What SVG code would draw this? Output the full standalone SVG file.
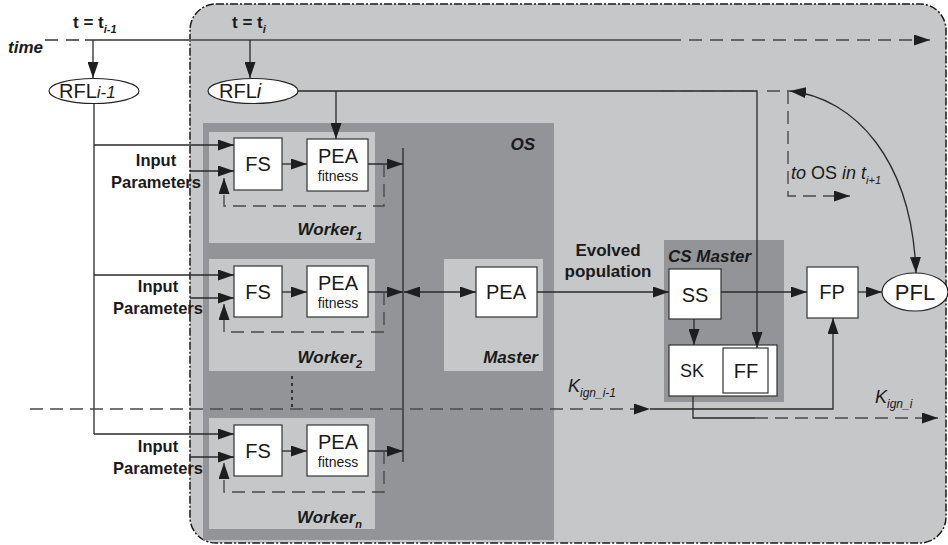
<svg xmlns="http://www.w3.org/2000/svg" width="948" height="545" viewBox="0 0 948 545">
<defs>
<marker id="ah" viewBox="0 0 16 11" refX="16" refY="5.5" markerWidth="16" markerHeight="11" markerUnits="userSpaceOnUse" orient="auto-start-reverse"><path d="M0,0 L16,5.5 L0,11 z" fill="#1e1e1e"/></marker>
<style>
.ln{fill:none;stroke:#2a2a2a;stroke-width:1.3}
.ds{fill:none;stroke:#4a4a4a;stroke-width:1.4;stroke-dasharray:13 7}
.tl{fill:none;stroke:#666;stroke-width:1.8}
.box{fill:#fff;stroke:#333;stroke-width:1.2}
.dark{fill:#939497}
.light{fill:#c6c7c9}
.t{font-family:"Liberation Sans",Arial,sans-serif;fill:#1a1a1a}
.b{font-weight:bold}
.bi{font-weight:bold;font-style:italic}
.i{font-style:italic}
.lab{font-size:20px;text-anchor:middle}
</style>
</defs>
<rect x="190" y="4" width="756" height="539" rx="26" fill="#c6c7c9" stroke="#1a1a1a" stroke-width="1.5" stroke-dasharray="8 2 2 2"/>

<g id="os"><rect class="dark" x="203" y="123" width="351" height="417"/><text class="t bi" x="535" y="150" font-size="17" text-anchor="end">OS</text></g>
<g id="worker1"><rect class="light" x="209" y="132" width="166" height="111"/><text class="t bi" x="362" y="235" font-size="17" text-anchor="end">Worker<tspan font-size="11" dy="5">1</tspan></text></g>
<g id="worker2"><rect class="light" x="209" y="259" width="166" height="112"/><text class="t bi" x="362" y="363" font-size="17" text-anchor="end">Worker<tspan font-size="11" dy="5">2</tspan></text></g>
<g id="workern"><rect class="light" x="209" y="418" width="166" height="111"/><text class="t bi" x="362" y="523" font-size="17" text-anchor="end">Worker<tspan font-size="11" dy="5">n</tspan></text></g>
<g id="master"><rect class="light" x="444" y="259" width="99" height="112"/><text class="t bi" x="538" y="363" font-size="17" text-anchor="end">Master</text></g>
<g id="csmaster"><rect class="dark" x="664" y="240" width="120" height="162"/><text class="t bi" x="668" y="262" font-size="17">CS Master</text></g>

<g id="fs1"><rect class="box" x="234" y="138" width="48" height="52"/><text class="t lab" x="258" y="171">FS</text></g>
<g id="pea1"><rect class="box" x="307" y="139" width="61" height="52"/><text class="t lab" x="338" y="163">PEA</text><text class="t" x="338" y="181" font-size="14" text-anchor="middle">fitness</text></g>
<g id="fs2"><rect class="box" x="234" y="266" width="48" height="51"/><text class="t lab" x="258" y="299">FS</text></g>
<g id="pea2"><rect class="box" x="307" y="266" width="61" height="51"/><text class="t lab" x="338" y="290">PEA</text><text class="t" x="338" y="308" font-size="14" text-anchor="middle">fitness</text></g>
<g id="fsn"><rect class="box" x="234" y="425" width="48" height="51"/><text class="t lab" x="258" y="458">FS</text></g>
<g id="pean"><rect class="box" x="307" y="425" width="61" height="51"/><text class="t lab" x="338" y="449">PEA</text><text class="t" x="338" y="467" font-size="14" text-anchor="middle">fitness</text></g>
<g id="pea-master"><rect class="box" x="476" y="267" width="61" height="50"/><text class="t lab" x="506" y="299">PEA</text></g>
<g id="ss"><rect class="box" x="669" y="269" width="52" height="50"/><text class="t lab" x="695" y="302" font-size="22">SS</text></g>
<g id="sk"><rect class="box" x="669" y="345" width="108" height="51"/><text class="t" x="692" y="377" font-size="18" text-anchor="middle">SK</text></g>
<g id="ff"><rect class="box" x="723" y="348" width="45" height="45"/><text class="t lab" x="746" y="378" font-size="21">FF</text></g>
<g id="fp"><rect class="box" x="807" y="267" width="51" height="51"/><text class="t lab" x="832" y="299">FP</text></g>
<g id="pfl"><ellipse cx="915" cy="292" rx="33" ry="19" fill="#fff" stroke="#222" stroke-width="1.2"/><text class="t" x="915" y="300" font-size="22" text-anchor="middle">PFL</text></g>
<g id="rfl-prev"><ellipse cx="94" cy="91" rx="45" ry="12.5" fill="#fff" stroke="#222" stroke-width="1.2"/><text class="t" x="59" y="98" font-size="20">RFL<tspan class="i" font-size="17">i-1</tspan></text></g>
<g id="rfl-i"><ellipse cx="253" cy="91" rx="45" ry="12.5" fill="#fff" stroke="#222" stroke-width="1.2"/><text class="t" x="219" y="98" font-size="20">RFL<tspan class="i">i</tspan></text></g>

<g id="labels">
<text class="t bi" x="8" y="53" font-size="17">time</text>
<text class="t b" x="73" y="28" font-size="17">t = t<tspan class="bi" font-size="11" dy="5">i-1</tspan></text>
<text class="t b" x="232" y="28" font-size="17">t = t<tspan class="bi" font-size="11" dy="5">i</tspan></text>
<text class="t b" x="156" y="166" font-size="16.5" text-anchor="middle">Input</text>
<text class="t b" x="156" y="188" font-size="16.5" text-anchor="middle">Parameters</text>
<text class="t b" x="158" y="292" font-size="16.5" text-anchor="middle">Input</text>
<text class="t b" x="158" y="314" font-size="16.5" text-anchor="middle">Parameters</text>
<text class="t b" x="158" y="452" font-size="16.5" text-anchor="middle">Input</text>
<text class="t b" x="158" y="474" font-size="16.5" text-anchor="middle">Parameters</text>
<text class="t b" x="608" y="256" font-size="17" text-anchor="middle">Evolved</text>
<text class="t b" x="608" y="277" font-size="17" text-anchor="middle">population</text>
<text class="t" x="791" y="179" font-size="18"><tspan class="i">to</tspan> OS <tspan class="i">in t</tspan><tspan class="i" font-size="11" dy="5">i+1</tspan></text>
<text class="t i" x="568" y="392" font-size="18">K<tspan font-size="12" dy="5">ign_i-1</tspan></text>
<text class="t i" x="875" y="403" font-size="18">K<tspan font-size="12" dy="5">ign_i</tspan></text>
</g>

<g id="connectors">
<path class="tl" d="M45,40 H85" stroke-dasharray="13 8"/>
<path class="tl" d="M85,40 H668"/>
<path class="tl" d="M668,40 H930" stroke-dasharray="13 8" marker-end="url(#ah)"/>
<path class="ln" d="M93,40 V78" marker-end="url(#ah)"/>
<path class="ln" d="M250,40 V78" marker-end="url(#ah)"/>
<path class="ln" d="M298,91 H757 V348" marker-end="url(#ah)"/>
<path class="ln" d="M336,91 V139" marker-end="url(#ah)"/>
<path class="ds" d="M661,91 H757" stroke-width="2" stroke-dasharray="14 8"/>
<path class="ds" d="M767,91 H790"/>
<path class="ds" d="M788,91 V196 H850" marker-end="url(#ah)"/>
<path class="ln" d="M916,273 C912,160 855,98 790,91" marker-start="url(#ah)" marker-end="url(#ah)"/>
<path class="ln" d="M94,104 V434"/>
<path class="ln" d="M94,145 H234" marker-end="url(#ah)"/>
<path class="ln" d="M94,275 H234" marker-end="url(#ah)"/>
<path class="ln" d="M94,434 H234" marker-end="url(#ah)"/>
<path class="ln" d="M190,171 H234" marker-end="url(#ah)"/>
<path class="ln" d="M190,298 H234" marker-end="url(#ah)"/>
<path class="ln" d="M190,457 H234" marker-end="url(#ah)"/>
<path class="ln" d="M282,164 H307" marker-end="url(#ah)"/>
<path class="ln" d="M282,292 H307" marker-end="url(#ah)"/>
<path class="ln" d="M282,451 H307" marker-end="url(#ah)"/>
<path class="ln" d="M368,164 H403" marker-end="url(#ah)"/>
<path class="ln" d="M368,292 H403" marker-end="url(#ah)"/>
<path class="ln" d="M368,451 H403" marker-end="url(#ah)"/>
<path class="ln" d="M403,148 V462"/>
<path class="ln" d="M404,292 H476" marker-start="url(#ah)" marker-end="url(#ah)"/>
<path class="ds" d="M384,164 V206 H224 V178" marker-end="url(#ah)"/>
<path class="ds" d="M384,292 V332 H224 V304" marker-end="url(#ah)"/>
<path class="ds" d="M384,451 V492 H224 V463" marker-end="url(#ah)"/>
<path d="M292,376 V410" fill="none" stroke="#333" stroke-width="2" stroke-dasharray="3 4"/>
<path class="ds" d="M30,409 H650" marker-end="url(#ah)"/>
<path class="ln" d="M650,409 H833 V318" marker-end="url(#ah)"/>
<path class="ln" d="M537,292 H669" marker-end="url(#ah)"/>
<path class="ln" d="M721,292 H807" marker-end="url(#ah)"/>
<path class="ln" d="M858,292 H882" marker-end="url(#ah)"/>
<path class="ln" d="M694,319 V345" marker-end="url(#ah)"/>
<path class="ln" d="M693,396 V418 H755"/>
<path class="ds" d="M755,418 H938" marker-end="url(#ah)"/>
</g>
</svg>
